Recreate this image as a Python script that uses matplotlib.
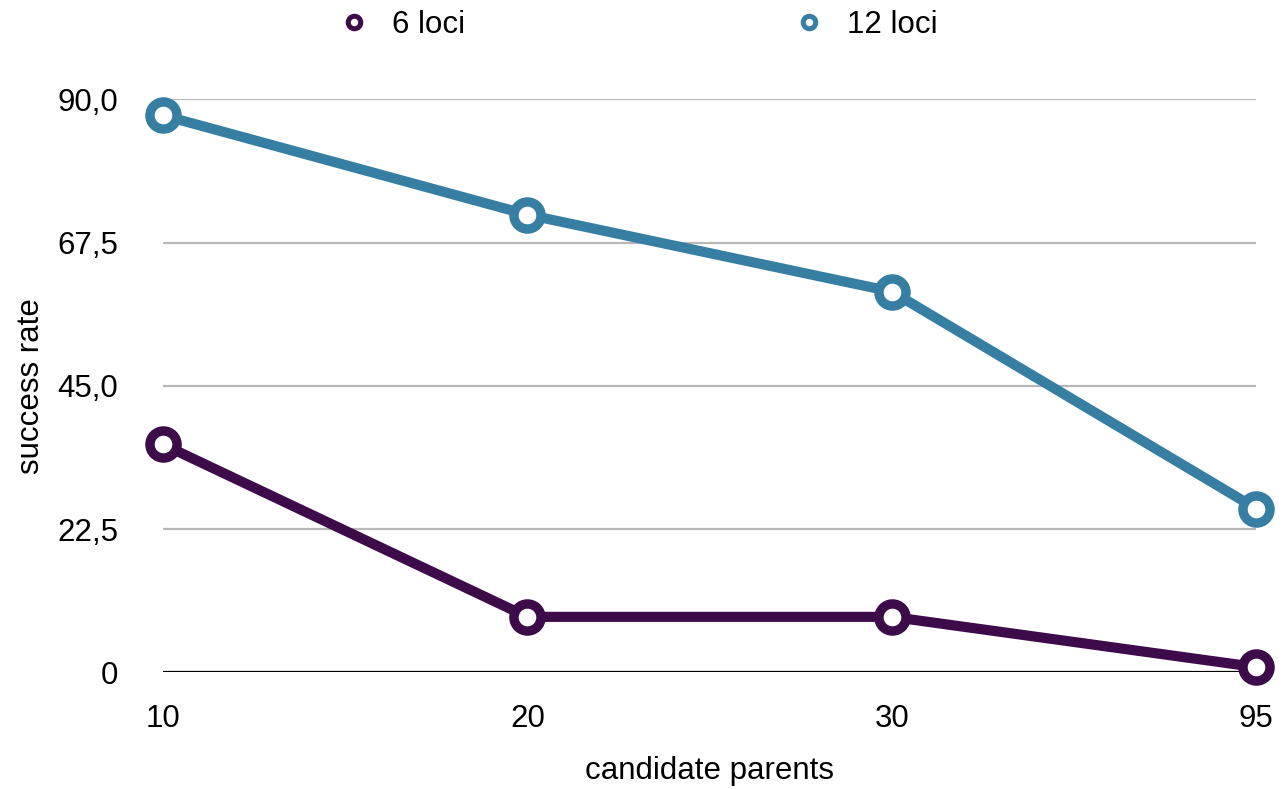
import matplotlib.pyplot as plt
from matplotlib.lines import Line2D

plt.rcParams['font.family'] = ['Liberation Sans', 'DejaVu Sans']

# candidate parents on the x axis, success rate per marker set
candidates = ['10', '20', '30', '95']
loci_6 = [35.8, 8.7, 8.7, 0.8]
loci_12 = [87.5, 71.9, 59.8, 25.7]
y_ticks = [0, 22.5, 45, 67.5, 90]
y_tick_labels = ['0', '22,5', '45,0', '67,5', '90,0']

purple = '#3d0a4a'
blue = '#367fa3'
fs = 22.5


def main():
    fig = plt.figure(figsize=(12.82, 7.89), dpi=100)
    ax = fig.add_axes([0.127, 0.148, 0.853, 0.726])

    x = list(range(len(candidates)))

    # grid lines first so the series sit on top
    for t in y_ticks[1:]:
        ax.axhline(t, color='#b8b8b8', lw=1.6, zorder=1)
    ax.axhline(0, color='black', lw=1.6, zorder=1)

    for vals, col in [(loci_6, purple), (loci_12, blue)]:
        ax.plot(x, vals, color=col, lw=7.3, marker='o', ms=19.5,
                mfc='white', mec=col, mew=6.8, clip_on=False, zorder=3)

    ax.set_xlim(0, len(candidates) - 1)
    ax.set_ylim(0, 90)
    ax.set_xticks(x)
    ax.set_xticklabels(candidates)
    ax.set_yticks(y_ticks)
    ax.set_yticklabels(y_tick_labels)
    ax.tick_params(axis='both', length=0, labelsize=fs)
    ax.tick_params(axis='x', pad=23)
    ax.tick_params(axis='y', pad=32)
    for s in ax.spines.values():
        s.set_visible(False)

    ax.set_xlabel('candidate parents', fontsize=fs, labelpad=16)
    ax.set_ylabel('success rate', fontsize=fs, labelpad=8)

    handles = [
        Line2D([], [], ls='none', marker='o', ms=9, mfc='white', mec=purple, mew=3.6),
        Line2D([], [], ls='none', marker='o', ms=9, mfc='white', mec=blue, mew=3.6),
    ]
    fig.legend(handles, ['6 loci', '12 loci'], loc='center',
               bbox_to_anchor=(0.498, 0.968), ncol=2, frameon=False,
               fontsize=fs, columnspacing=10.5, handletextpad=0.72,
               handlelength=1.0)

    fig.savefig('out.png', dpi=100)


if __name__ == "__main__":
    main()
